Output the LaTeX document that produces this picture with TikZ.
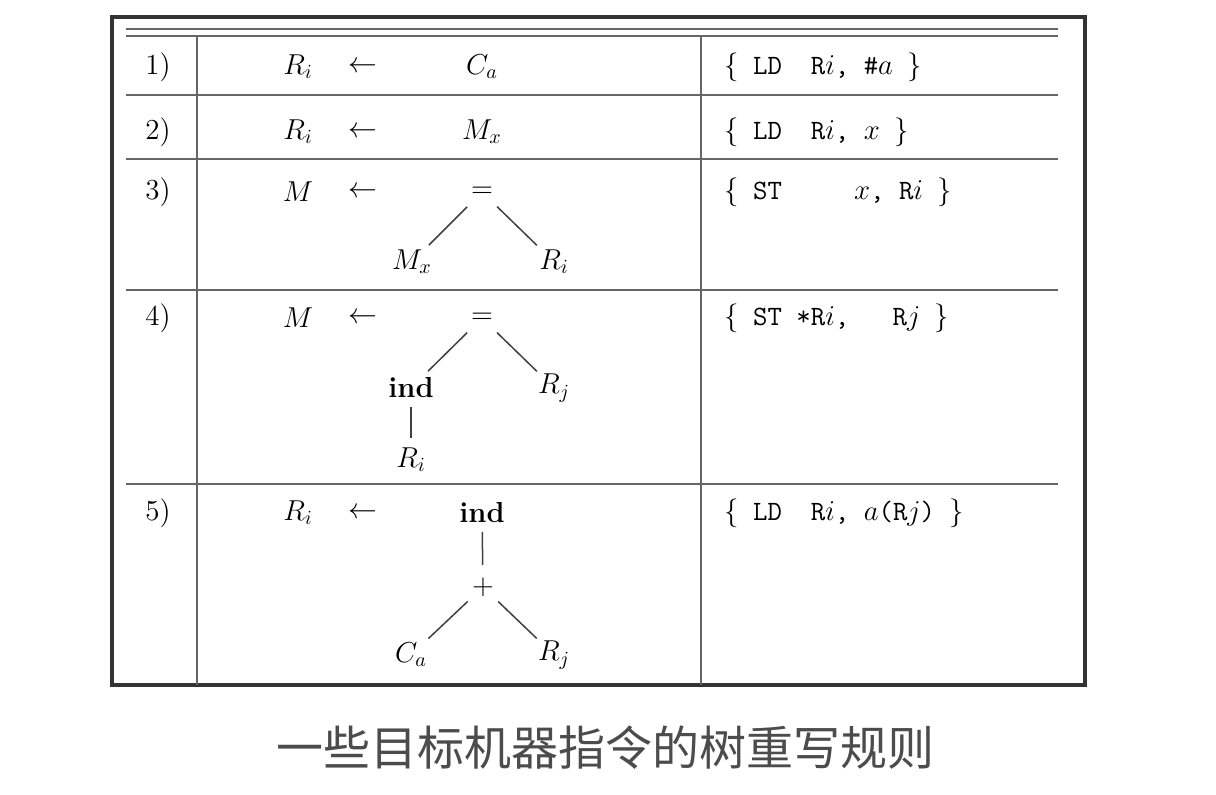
\documentclass[tikz,border=0pt]{standalone}
\usepackage{fontspec}
\newfontfamily\cjk{Noto Sans CJK SC}
\usepackage{tikz}
\usetikzlibrary{positioning}

\begin{document}
\begin{tikzpicture}[
    x=0.5pt, y=-0.5pt,
    cell/.style={inner sep=0pt, text=black, font=\fontsize{14.5}{17}\selectfont},
    code/.style={anchor=west, inner sep=0pt, text=black, font=\fontsize{14}{17}\selectfont\ttfamily},
    edge/.style={draw=black!75, line width=0.75pt, shorten <=10.5pt, shorten >=12pt},
    stem/.style={draw=black!75, line width=0.75pt, shorten <=9.5pt, shorten >=11pt},
    rule/.style={draw=black!60, line width=0.8pt},
    frame/.style={draw=black!80, line width=1.6pt}
]
    \useasboundingbox (0,0) rectangle (1216,795);

    % table
    \draw[frame] (112,17) rectangle (1085,685);
    \draw[rule] (126,29) -- (1058,29);
    \draw[rule] (126,36) -- (1058,36);
    \draw[rule] (126,95) -- (1058,95);
    \draw[rule] (126,159) -- (1058,159);
    \draw[rule] (126,290) -- (1058,290);
    \draw[rule] (126,484) -- (1058,484);
    \draw[rule] (197,36) -- (197,685);
    \draw[rule] (701,36) -- (701,685);

    % rule 1
    \node[cell] (num1) at (158,67) {1)};
    \node[cell] (lhs1) at (298,67) {$R_i$};
    \node[cell] (arr1) at (363,67) {$\leftarrow$};
    \node[cell] (ca1) at (482,67) {$C_a$};
    \node[code] (ins1) at (724,67) {$\{$~LD~~R$i$,~\#$a$~$\}$};

    % rule 2
    \node[cell] (num2) at (158,132) {2)};
    \node[cell] (lhs2) at (298,132) {$R_i$};
    \node[cell] (arr2) at (363,132) {$\leftarrow$};
    \node[cell] (mx2) at (482,132) {$M_x$};
    \node[code] (ins2) at (724,132) {$\{$~LD~~R$i$,~$x$~$\}$};

    % rule 3
    \node[cell] (num3) at (158,192) {3)};
    \node[cell] (lhs3) at (298,192) {$M$};
    \node[cell] (arr3) at (363,192) {$\leftarrow$};
    \node[cell] (eq3) at (482,192) {$=$};
    \node[cell] (mx3) at (412,262) {$M_x$};
    \node[cell] (ri3) at (554,262) {$R_i$};
    \node[code] (ins3) at (724,192) {$\{$~ST~~~~~$x$,~R$i$~$\}$};
    \draw[edge] (eq3.center) -- (mx3.center);
    \draw[edge] (eq3.center) -- (ri3.center);

    % rule 4
    \node[cell] (num4) at (158,318) {4)};
    \node[cell] (lhs4) at (298,318) {$M$};
    \node[cell] (arr4) at (363,318) {$\leftarrow$};
    \node[cell] (eq4) at (482,318) {$=$};
    \node[cell] (ind4) at (411,388) {\textbf{ind}};
    \node[cell] (rj4) at (554,388) {$R_j$};
    \node[cell] (ri4) at (411,460) {$R_i$};
    \node[code] (ins4) at (724,318) {$\{$~ST~*R$i$,~~~R$j$~$\}$};
    \draw[edge] (eq4.center) -- (ind4.center);
    \draw[edge] (eq4.center) -- (rj4.center);
    \draw[stem] (ind4.center) -- (ri4.center);

    % rule 5
    \node[cell] (num5) at (158,513) {5)};
    \node[cell] (lhs5) at (298,513) {$R_i$};
    \node[cell] (arr5) at (363,513) {$\leftarrow$};
    \node[cell] (ind5) at (482,513) {\textbf{ind}};
    \node[cell] (plus5) at (483,587) {$+$};
    \node[cell] (ca5) at (411,655) {$C_a$};
    \node[cell] (rj5) at (554,655) {$R_j$};
    \node[code] (ins5) at (724,513) {$\{$~LD~~R$i$,~$a$(R$j$)~$\}$};
    \draw[stem] (ind5.center) -- (plus5.center);
    \draw[edge] (plus5.center) -- (ca5.center);
    \draw[edge] (plus5.center) -- (rj5.center);

    % caption
    \node[inner sep=0pt, text=black!70, font=\cjk\fontsize{23.5}{28}\selectfont] (caption) at (605,748) {一些目标机器指令的树重写规则};
\end{tikzpicture}
\end{document}
